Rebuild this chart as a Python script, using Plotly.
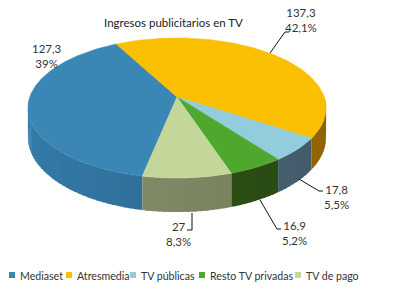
import math
import plotly.graph_objects as go

# ---- data ----
categories = ["Mediaset", "Atresmedia", "TV públicas", "Resto TV privadas", "TV de pago"]
values = [127.3, 137.3, 17.8, 16.9, 27]
title_text = "Ingresos publicitarios en TV"

# ---- style ----
top_colors = ["#3A87B5", "#FAC000", "#93CDDD", "#4FA72E", "#C4D79B"]
side_colors = ["#2F6F98", "#A27000", "#4A6474", "#2C5015", "#7E8763"]
FONT = "Lato"
TXT = "#333333"
W, H = 410, 292

# perspective ellipse parameters (pixels)
CX, CY = 177.0, 97.0
A, B, K, D = 147.2, 68.3, 0.157, 28.7
START = 191.5  # angle (deg, clockwise from back) where the first slice starts


def proj(theta, depth=0.0):
    t = math.radians(theta)
    u, v = math.sin(t), -math.cos(t)
    w = 1 - K * v
    return CX + A * u / w, CY + (B * v + depth) / w


def shade(hexc, f):
    r, g, b = (int(hexc[i:i + 2], 16) for i in (1, 3, 5))
    c = [max(0, min(255, int(round(x * f)))) for x in (r, g, b)]
    return "#%02X%02X%02X" % tuple(c)


total = sum(values)
angles = []
a = START
for val in values:
    span = val / total * 360.0
    angles.append((a, a + span))
    a += span

fig = go.Figure()

# side faces (front half), drawn as thin shaded strips that slightly overlap
for i, (a0, a1) in enumerate(angles):
    for k in (-360, 0, 360):
        lo, hi = max(a0, 90 + k), min(a1, 270 + k)
        if hi <= lo:
            continue
        n = max(1, int(math.ceil((hi - lo) / 2.0)))
        for j in range(n):
            t0 = lo + (hi - lo) * j / n
            t1 = lo + (hi - lo) * (j + 1) / n
            mid = (t0 + t1) / 2 - k
            f = 0.85 + 0.3 * (mid - 90) / 180.0
            col = shade(side_colors[i], f)
            t1e = min(hi, t1 + 0.9)
            xs, ys = [], []
            m = 4
            for s in range(m + 1):
                x, y = proj(t0 + (t1e - t0) * s / m)
                xs.append(x)
                ys.append(y)
            for s in range(m, -1, -1):
                x, y = proj(t0 + (t1e - t0) * s / m, D)
                xs.append(x)
                ys.append(y)
            xs.append(xs[0])
            ys.append(ys[0])
            fig.add_trace(go.Scatter(
                x=xs, y=ys, mode="lines", fill="toself", fillcolor=col,
                line=dict(color=col, width=0),
                hoverinfo="skip", showlegend=False))

# top faces
for i, (a0, a1) in enumerate(angles):
    n = max(2, int(math.ceil(a1 - a0)))
    xs, ys = [CX], [CY]
    for j in range(n + 1):
        x, y = proj(a0 + (a1 - a0) * j / n)
        xs.append(x)
        ys.append(y)
    xs.append(CX)
    ys.append(CY)
    fig.add_trace(go.Scatter(
        x=xs, y=ys, mode="lines", fill="toself", fillcolor=top_colors[i],
        line=dict(color=top_colors[i], width=0.6),
        hoverinfo="skip", showlegend=False, name=categories[i]))


def fmt_val(v):
    return ("%g" % v).replace(".", ",")


def fmt_pct(v):
    s = "%.1f" % (v / total * 100)
    s = s.rstrip("0").rstrip(".")
    return s.replace(".", ",") + "%"


# data labels (positions are layout)
label_pos = [(47, 56), (301, 20), (336, 197), (294, 233), (178, 234)]
for i, (lx, ly) in enumerate(label_pos):
    fig.add_annotation(x=lx, y=ly, xref="x", yref="y", showarrow=False,
                       text=fmt_val(values[i]) + "<br>" + fmt_pct(values[i]),
                       font=dict(family=FONT, size=11.5, color=TXT),
                       xanchor="center", yanchor="middle", align="center")

leaders = [
    "M270,53 L285,32 L289,32",
    "M299,179 L319,191 L323,191",
    "M260,200 L277,229 L281,229",
    "M192,213 L192,230 L187,230",
]
for p in leaders:
    fig.add_shape(type="path", path=p, xref="x", yref="y",
                  line=dict(color="#111111", width=1))

# title
fig.add_annotation(x=173, y=22, xref="x", yref="y", showarrow=False,
                   text=title_text, font=dict(family=FONT, size=11.5, color="#222222"),
                   xanchor="center", yanchor="middle")

# legend (manual)
leg_x = [9, 66, 130, 199, 295]
for i, cat in enumerate(categories):
    x0 = leg_x[i]
    fig.add_shape(type="rect", x0=x0, x1=x0 + 6, y0=272, y1=278, xref="x", yref="y",
                  fillcolor=top_colors[i], line=dict(width=0))
    fig.add_annotation(x=x0 + 8.5, y=275.5, xref="x", yref="y", showarrow=False,
                       text=cat, font=dict(family=FONT, size=10.6, color=TXT),
                       xanchor="left", yanchor="middle")

fig.update_layout(
    width=W, height=H,
    margin=dict(l=0, r=0, t=0, b=0, pad=0),
    paper_bgcolor="white", plot_bgcolor="white",
    xaxis=dict(range=[0, W], visible=False, fixedrange=True),
    yaxis=dict(range=[H, 0], visible=False, fixedrange=True),
    showlegend=False,
)

fig.write_html("out.html")
